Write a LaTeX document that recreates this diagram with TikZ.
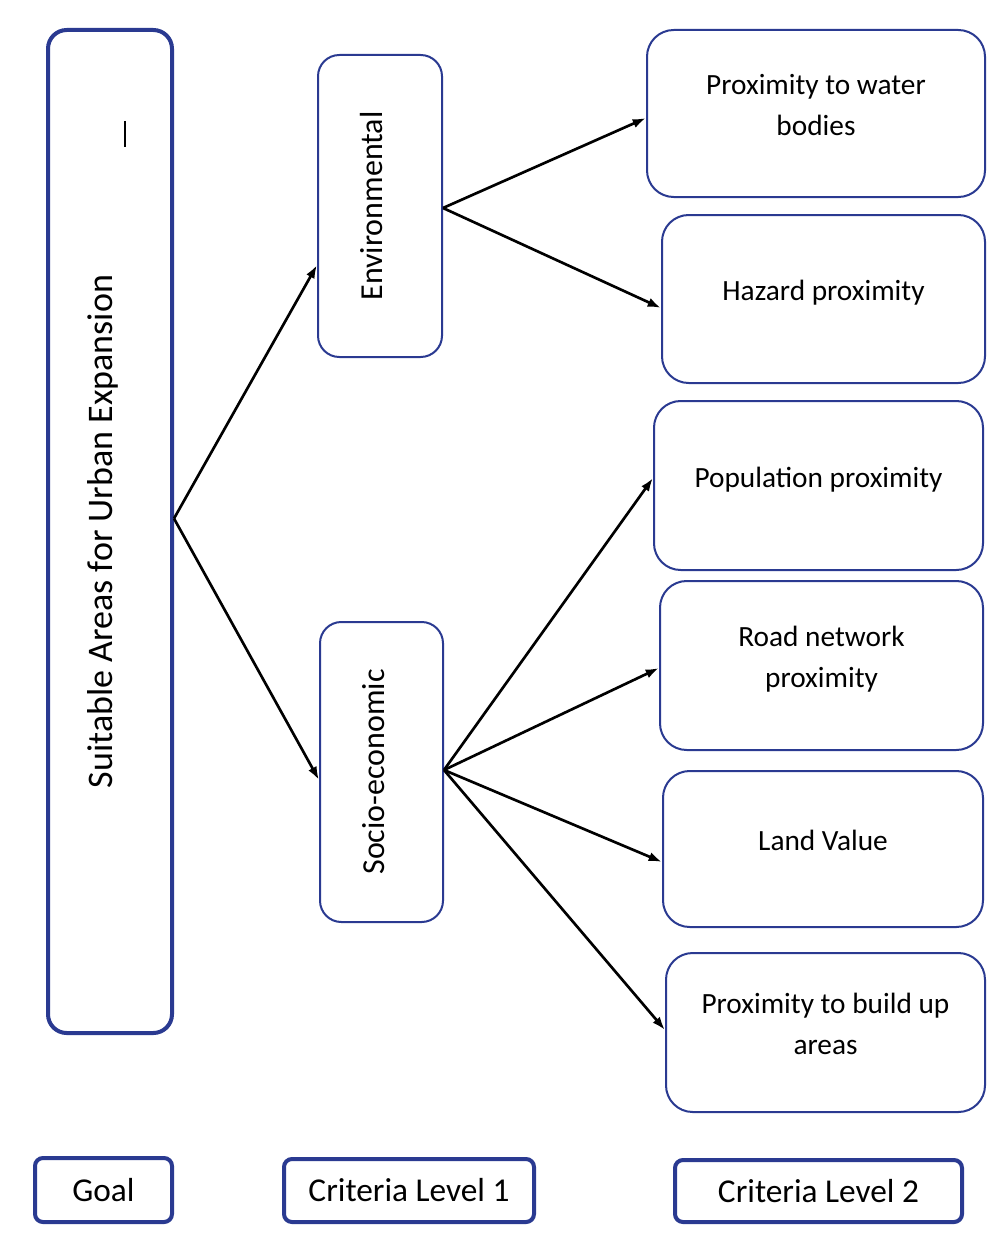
\documentclass[tikz,border=0pt]{standalone}
\usepackage{fontspec}
\setmainfont{Carlito}
\usepackage{graphicx}
\usetikzlibrary{arrows.meta,calc}
\definecolor{bord}{RGB}{42,58,145}
\begin{document}
\begin{tikzpicture}[x=0.75pt,y=-0.75pt,
  thickbox/.style={draw=bord,line width=3pt,rounded corners=14pt,fill=white,inner sep=0pt},
  thinbox/.style={draw=bord,line width=1.5pt,rounded corners=16pt,fill=white,inner sep=0pt},
  rbox/.style={draw=bord,line width=1.5pt,rounded corners=20pt,fill=white,inner sep=0pt,align=center,text depth=13pt,font=\fontsize{22}{31}\selectfont},
  legbox/.style={draw=bord,line width=3pt,rounded corners=6pt,fill=white,inner sep=0pt,font=\fontsize{25}{28}\selectfont},
  arr/.style={line width=2pt,-{Latex[length=10pt,width=7pt]}}]
\useasboundingbox (0,0) rectangle (994,1245);
\node[thickbox,minimum width=124*0.75pt,minimum height=1003*0.75pt] (goal) at (110,531.5)
  {\fontsize{27}{30}\selectfont\rotatebox{90}{Suitable Areas for Urban Expansion}\kern10.5pt};
\node[thinbox,minimum width=124*0.75pt,minimum height=302*0.75pt] (env) at (380,206)
  {\fontsize{24}{26}\selectfont\rotatebox{90}{Environmental}\kern12pt};
\node[thinbox,minimum width=123*0.75pt,minimum height=300*0.75pt] (soc) at (381.5,772)
  {\fontsize{24}{26}\selectfont\rotatebox{90}{Socio-economic}\kern12.5pt};
\node[rbox,minimum width=338*0.75pt,minimum height=167*0.75pt] (b1) at (816,113.5) {Proximity to water\\bodies};
\node[rbox,minimum width=323*0.75pt,minimum height=168*0.75pt] (b2) at (823.5,299) {Hazard proximity};
\node[rbox,minimum width=329*0.75pt,minimum height=169*0.75pt] (b3) at (818.5,485.5) {Population proximity};
\node[rbox,minimum width=323*0.75pt,minimum height=169*0.75pt] (b4) at (821.5,665.5) {Road network\\proximity};
\node[rbox,minimum width=320*0.75pt,minimum height=156*0.75pt] (b5) at (823,849) {Land Value};
\node[rbox,minimum width=319*0.75pt,minimum height=159*0.75pt] (b6) at (825.5,1032.5) {Proximity to build up\\areas};
\node[legbox,minimum width=137*0.75pt,minimum height=64*0.75pt] (l1) at (103.5,1190) {Goal};
\node[legbox,minimum width=250*0.75pt,minimum height=63*0.75pt] (l2) at (409,1190.5) {Criteria Level 1};
\node[legbox,minimum width=287*0.75pt,minimum height=62*0.75pt] (l3) at (818.5,1191) {Criteria Level 2};
\coordinate (mk1) at (125,121);
\coordinate (mk2) at (125,147);
\draw[line width=1pt] (mk1) -- (mk2);
\draw[arr] ($(goal.east)+(0,-13)$) -- ($(env.west)+(0,59)$);
\draw[arr] ($(goal.east)+(0,-13)$) -- ($(soc.west)+(0,8)$);
\draw[arr] ($(env.east)+(0,2)$) -- ($(b1.west)+(0,4.5)$);
\draw[arr] ($(env.east)+(0,2)$) -- ($(b2.west)+(0,9)$);
\draw[arr] ($(soc.east)+(0,-2)$) -- ($(b3.west)+(0,-7.5)$);
\draw[arr] ($(soc.east)+(0,-2)$) -- ($(b4.west)+(0,2.5)$);
\draw[arr] ($(soc.east)+(0,-2)$) -- ($(b5.west)+(0,13)$);
\draw[arr] ($(soc.east)+(0,-2)$) -- ($(b6.west)+(0,-2.5)$);
\end{tikzpicture}
\end{document}
